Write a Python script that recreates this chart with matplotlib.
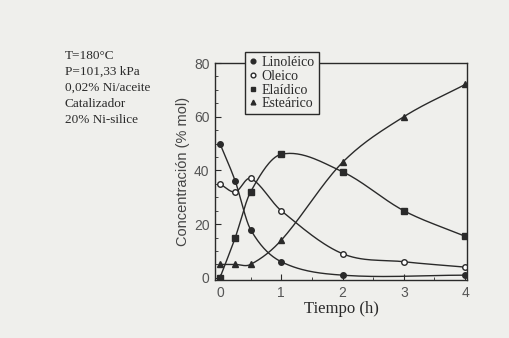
import numpy as np
import matplotlib
matplotlib.use("Agg")
import matplotlib.pyplot as plt
from matplotlib.ticker import MultipleLocator

# Data
t_lin = [0, 0.25, 0.5, 1, 2, 4]
linoleico = [50, 36, 18, 6, 1, 1]
t_ole = [0, 0.25, 0.5, 1, 2, 3, 4]
oleico = [35, 32, 37, 25, 9, 6, 4]
t_ela = [0, 0.25, 0.5, 1, 2, 3, 4]
elaidico = [0, 15, 32, 46, 39.5, 25, 15.5]
t_est = [0, 0.25, 0.5, 1, 2, 3, 4]
estearico = [5, 5, 5, 14, 43, 60, 72]

conditions = ["T=180°C", "P=101,33 kPa", "0,02% Ni/aceite", "Catalizador", "20% Ni-silice"]


def smooth(x, y, n=30):
    x = np.asarray(x, float)
    y = np.asarray(y, float)
    m = np.zeros_like(y)
    for i in range(len(x)):
        if i == 0:
            m[i] = (y[1] - y[0]) / (x[1] - x[0])
        elif i == len(x) - 1:
            m[i] = (y[-1] - y[-2]) / (x[-1] - x[-2])
        else:
            m[i] = (y[i + 1] - y[i - 1]) / (x[i + 1] - x[i - 1])
    xs, ys = [], []
    for i in range(len(x) - 1):
        h = x[i + 1] - x[i]
        s = np.linspace(0, 1, n, endpoint=False)
        h00 = 2 * s**3 - 3 * s**2 + 1
        h10 = s**3 - 2 * s**2 + s
        h01 = -2 * s**3 + 3 * s**2
        h11 = s**3 - s**2
        xs.append(x[i] + s * h)
        ys.append(h00 * y[i] + h10 * h * m[i] + h01 * y[i + 1] + h11 * h * m[i + 1])
    xs.append([x[-1]])
    ys.append([y[-1]])
    return np.concatenate(xs), np.concatenate(ys)


bg = "#efefec"
ink = "#2a2a2a"
fig = plt.figure(figsize=(5.10, 3.38), dpi=100, facecolor=bg)
ax = fig.add_axes([0.4216, 0.1716, 0.494, 0.642], facecolor=bg)

serif = "Liberation Serif"
sans = "Liberation Sans"

series = [
    (t_lin, linoleico, "o", ink, "Linoléico"),
    (t_ole, oleico, "o", "white", "Oleico"),
    (t_ela, elaidico, "s", ink, "Elaídico"),
    (t_est, estearico, "^", ink, "Esteárico"),
]
handles = []
for x, y, mk, fc, lab in series:
    xs, ys = smooth(x, y)
    ax.plot(xs, ys, color=ink, lw=1.0)
    h, = ax.plot(x, y, ls="none", marker=mk, ms=4.0, mfc=fc, mec=ink, mew=1.0, label=lab)
    handles.append(h)

ax.set_xlim(-0.08, 4.03)
ax.set_ylim(-0.8, 80)
ax.xaxis.set_major_locator(MultipleLocator(1))
ax.xaxis.set_minor_locator(MultipleLocator(0.5))
ax.yaxis.set_major_locator(MultipleLocator(20))
ax.yaxis.set_minor_locator(MultipleLocator(5))
ax.tick_params(which="both", direction="in", colors=ink, labelsize=10)
ax.tick_params(which="major", length=4, pad=4)
ax.tick_params(which="minor", length=2)
for lbl in ax.get_xticklabels() + ax.get_yticklabels():
    lbl.set_fontfamily(sans)
    lbl.set_color("#555555")
for sp in ax.spines.values():
    sp.set_color(ink)
    sp.set_linewidth(1.0)

ax.set_xlabel("Tiempo (h)", fontfamily=serif, fontsize=12, color=ink, labelpad=1)
ax.set_ylabel("Concentración (% mol)", fontfamily=sans, fontsize=10.5, color="#444444", labelpad=3)

leg = fig.legend(handles=handles, loc="upper left", bbox_to_anchor=(0.480, 0.846),
                 borderaxespad=0,
                 prop={"family": serif, "size": 10}, frameon=True, fancybox=False,
                 handlelength=0.6, handletextpad=0.3, borderpad=0.3, labelspacing=0.05,
                 markerscale=0.85)
leg.get_frame().set_edgecolor(ink)
leg.get_frame().set_facecolor(bg)
leg.get_frame().set_alpha(1)
leg.get_frame().set_linewidth(1.0)
for txt in leg.get_texts():
    txt.set_color(ink)

for i, s in enumerate(conditions):
    fig.text(65 / 510, 1 - (56 + 16 * i) / 338, s, fontfamily=serif, fontsize=9.5,
             color=ink, va="center", ha="left")

fig.savefig("out.png", dpi=100, facecolor=bg)
